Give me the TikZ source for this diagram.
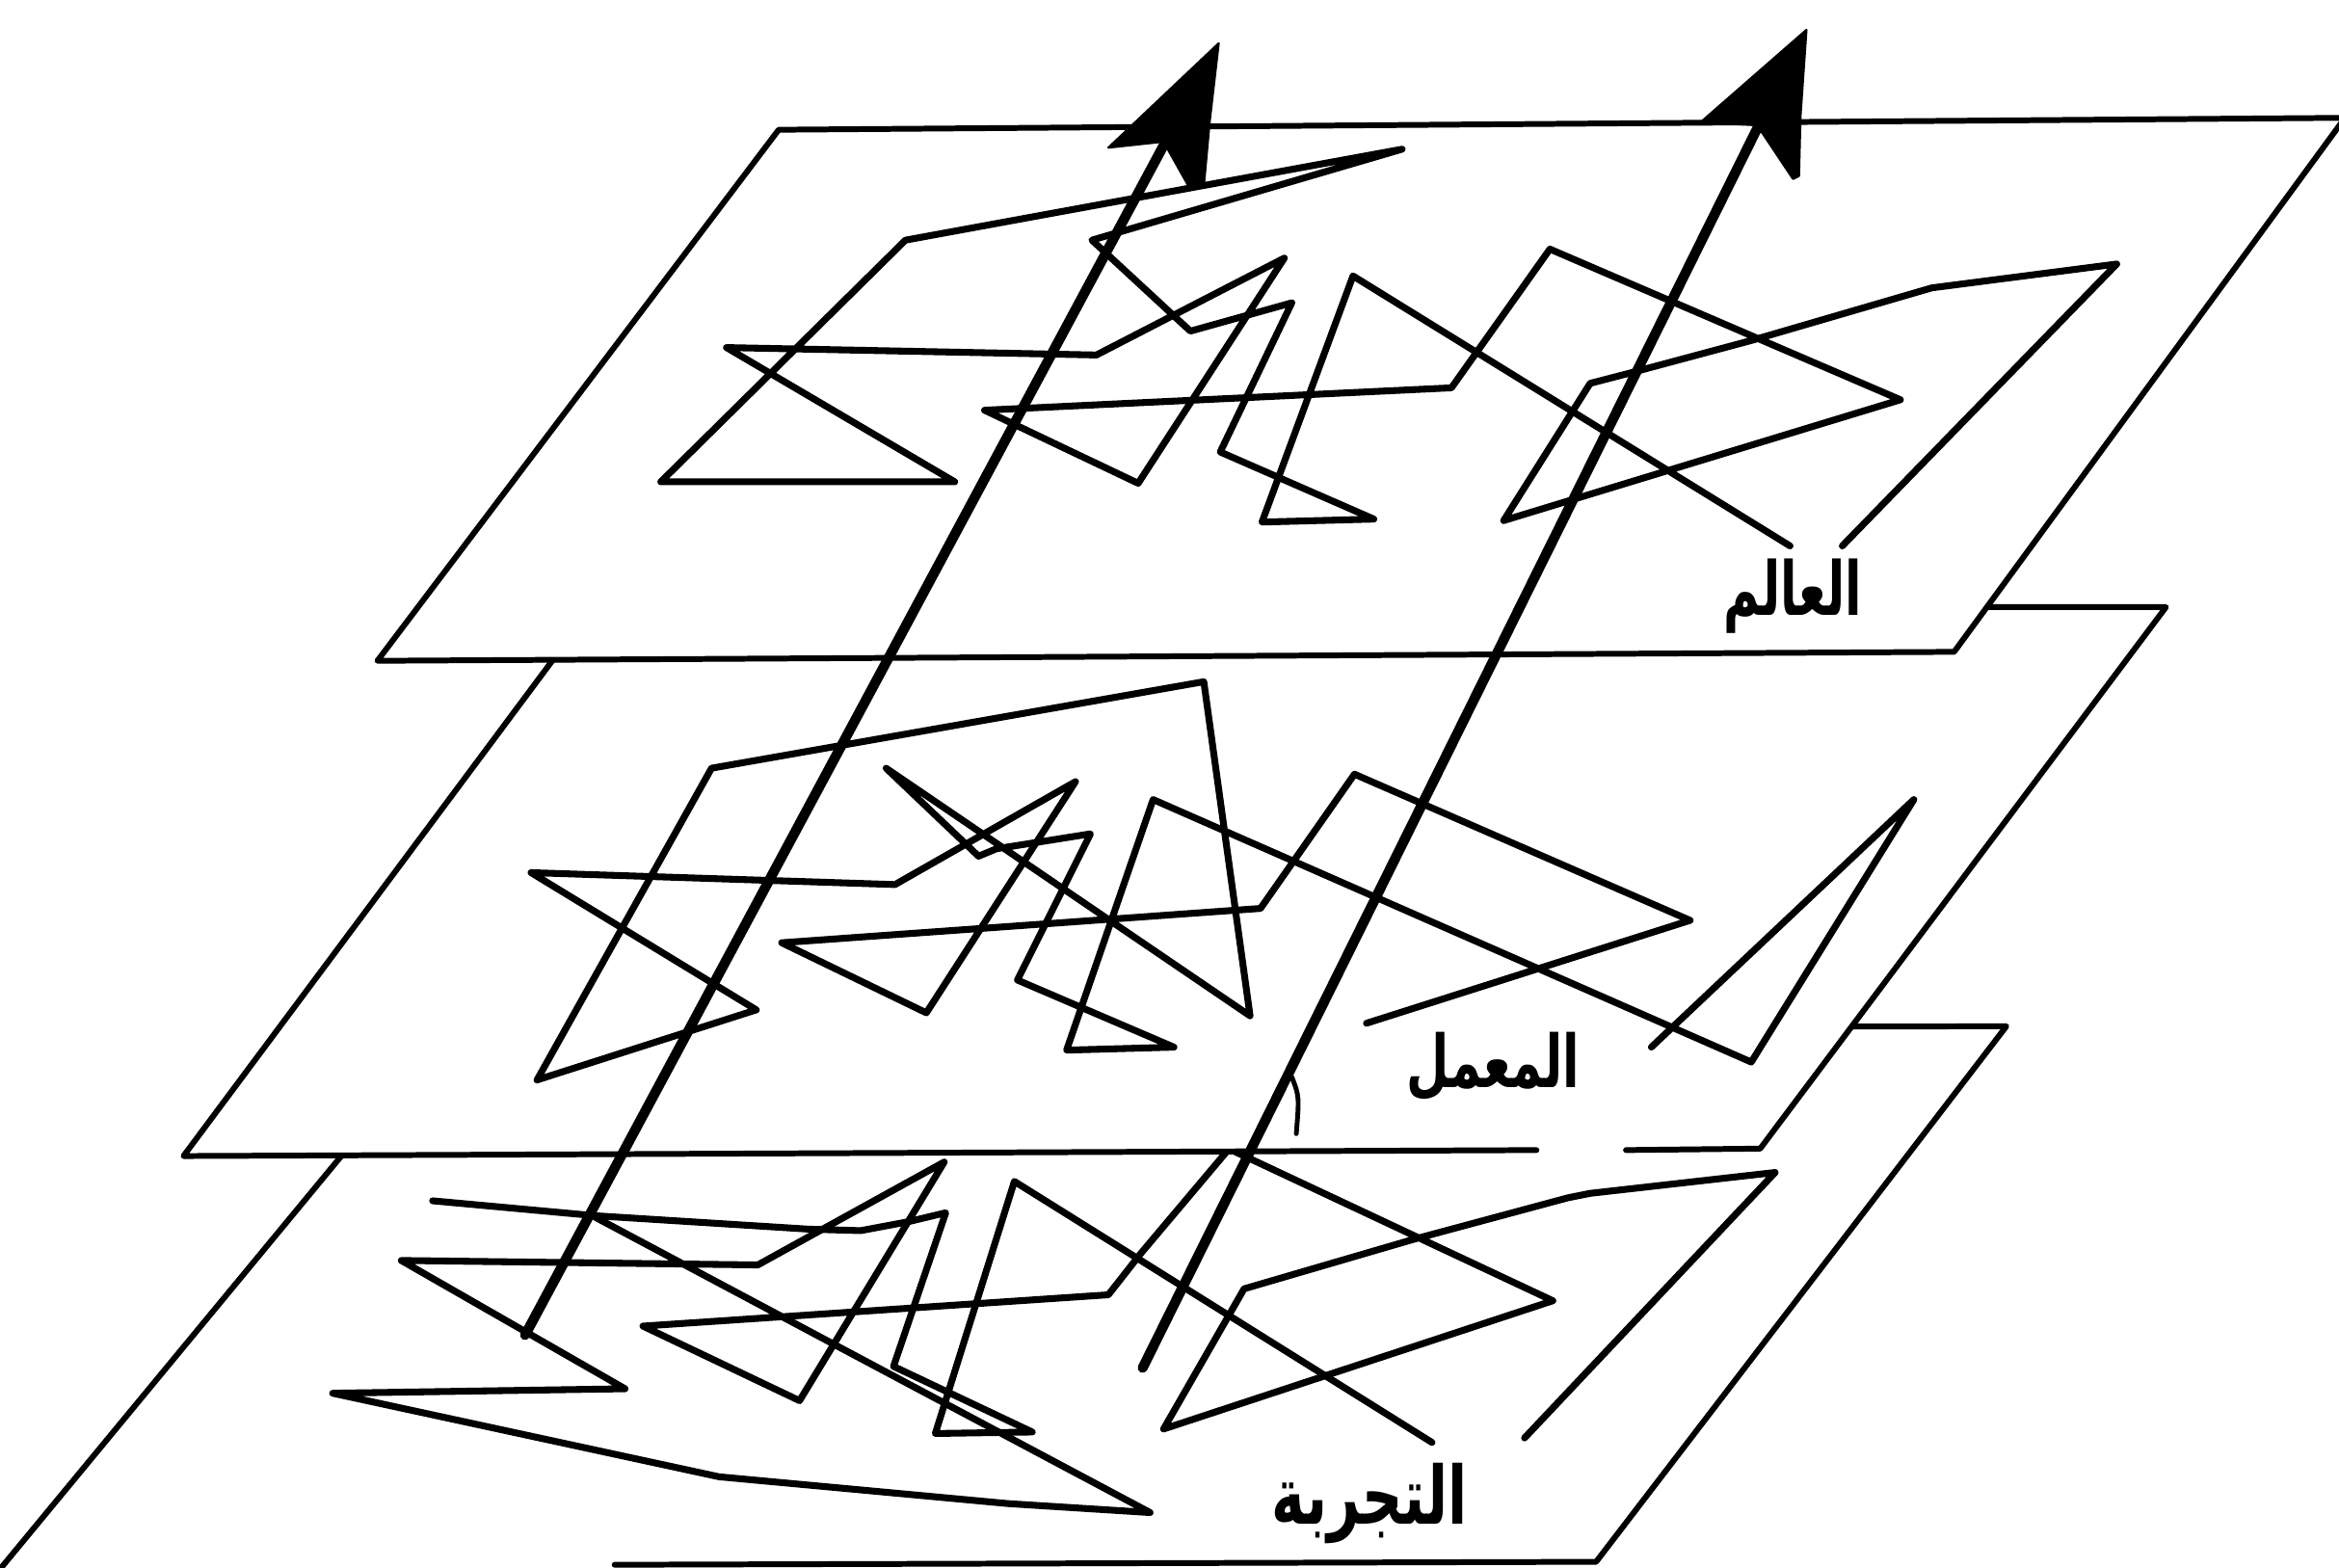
\documentclass[tikz,border=0pt]{standalone}
\usepackage{fontspec}
\usepackage{graphicx}
\newfontfamily\arabicfont[Script=Arabic]{DejaVu Sans}
\TeXXeTstate=1
\tikzset{
  plane/.style={fill=white,draw=none},
  edge/.style={line width=1.1pt,line cap=round,line join=round},
  scribble/.style={line width=1.3pt,line join=round,line cap=round},
  shaft/.style={line width=1.9pt,line cap=round},
  head/.style={fill=black,draw=black,line width=0.4pt,line join=round},
  lbl/.style={inner sep=0pt,outer sep=0pt}
}
\begin{document}
\begin{tikzpicture}[x=0.1mm,y=-0.1mm]
\useasboundingbox (0,0) rectangle (1568,1051);
\clip (0,0) rectangle (1568,1051);
% ---------- bottom plane (experiment) ----------
\coordinate (b1) at (299,690);
\coordinate (b2) at (1345,688);
\coordinate (b3) at (1070,1047);
\coordinate (b4) at (-5,1058);
\coordinate (bg) at (412,1049);
\fill[plane] (b1) -- (b2) -- (b3) -- (b4) -- cycle;
\draw[edge] (b4) -- (b1) -- (b2) -- (b3) -- (bg);
\draw[scribble] (290,805) -- (399,815) -- (542,824) -- (577,825) -- (609,819) -- (634,813)
  -- (599,916) -- (692,960) -- (627,961) -- (680,792) -- (960,967);
\draw[scribble] (399,816) -- (771,1014) -- (676,1008) -- (482,990) -- (223,934) -- (419,931)
  -- (269,845) -- (508,848) -- (633,779) -- (536,939) -- (431,889) -- (743,868) -- (765,840) -- (835,757);
\draw[scribble] (815,766) -- (1041,872) -- (780,958) -- (834,864) -- (947,831) -- (1051,803)
  -- (1066,800) -- (1190,786) -- (1022,964);
% ---------- middle plane (lab) ----------
\coordinate (m1) at (397,407);
\coordinate (m2) at (1452,407);
\coordinate (m3) at (1180,770);
\coordinate (m4) at (123,775);
\coordinate (mg1) at (1030,771);
\coordinate (mg2) at (1090,771);
\fill[plane] (m1) -- (m2) -- (m3) -- (m4) -- cycle;
\draw[edge] (mg1) -- (m4) -- (m1) -- (m2) -- (m3) -- (mg2);
\draw[scribble] (916,686) -- (1133,617) -- (908,519) -- (845,609) -- (524,632) -- (621,679)
  -- (721,524) -- (600,593) -- (356,585) -- (507,677) -- (360,724) -- (477,515) -- (807,457)
  -- (838,681) -- (594,515) -- (656,574) -- (668,569) -- (731,559) -- (682,657) -- (787,702)
  -- (715,704) -- (773,536) -- (1174,712) -- (1283,536) -- (1107,702);
\draw[line width=0.9pt,line cap=round] (866,722) .. controls (871,735) .. (869,760);
% ---------- top plane (world) ----------
\coordinate (t1) at (522,87);
\coordinate (t2) at (1572,79);
\coordinate (t3) at (1310,437);
\coordinate (t4) at (253,443);
\fill[plane] (t1) -- (t2) -- (t3) -- (t4) -- cycle;
\draw[edge] (t1) -- (t2) -- (t3) -- (t4) -- cycle;
\draw[scribble] (1200,366) -- (907,185) -- (846,350) -- (921,348) -- (818,303) -- (866,203)
  -- (798,222) -- (732,161) -- (940,100) -- (607,161) -- (443,323) -- (640,323) -- (487,233)
  -- (735,238) -- (861,173) -- (763,324) -- (660,275) -- (973,260) -- (1039,167) -- (1274,268)
  -- (1008,349) -- (1066,257) -- (1093,250) -- (1175,228) -- (1295,193) -- (1419,177) -- (1235,366);
% ---------- arrows ----------
\coordinate (a1s) at (352,895);
\coordinate (a1e) at (783,92);
\coordinate (a2s) at (766,917);
\coordinate (a2e) at (1179,84);
\draw[shaft] (a1s) -- (a1e);
\draw[shaft] (a2s) -- (a2e);
\fill[head] (817,29) -- (743,99) -- (780,95) -- (798,127) -- (807,125) -- (811,81) -- cycle;
\fill[head] (1211,20) -- (1140,82) -- (1178,84) -- (1202,120) -- (1206,118) -- (1207,78) -- cycle;
% ---------- labels ----------
\node[lbl] (world) at (1202,400) {\resizebox*{9.3mm}{5.0mm}{\arabicfont\bfseries\beginR العالم\endR}};
\node[lbl] (lab) at (1001,715) {\resizebox*{11.6mm}{4.6mm}{\arabicfont\bfseries\beginR المعمل\endR}};
\node[lbl] (exp) at (918,1008) {\resizebox*{13.1mm}{5.4mm}{\arabicfont\bfseries\beginR التجربة\endR}};
\end{tikzpicture}
\end{document}
